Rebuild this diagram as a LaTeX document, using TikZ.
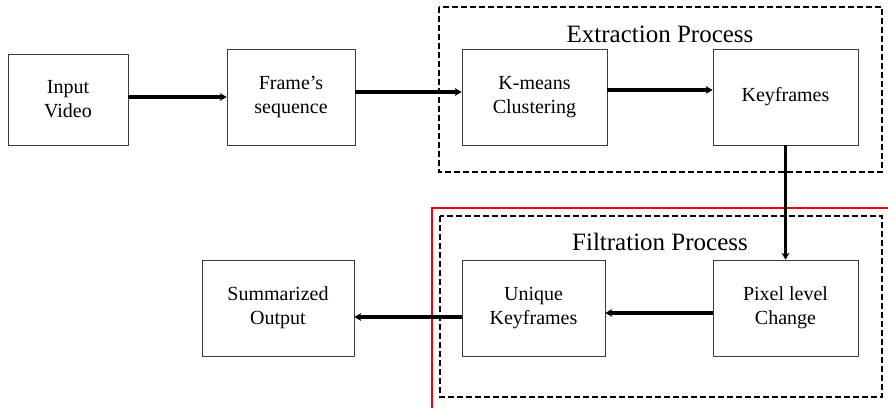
\documentclass[tikz,border=0pt]{standalone}
\usepackage{fontspec}
\setmainfont{Liberation Serif}
\usepackage{tikz}
\usetikzlibrary{arrows.meta, positioning}
\definecolor{boxline}{HTML}{3C3C3C}
\definecolor{redline}{HTML}{E8000B}

\begin{document}
\begin{tikzpicture}[x=1pt, y=-1pt, >={Stealth[length=7pt, width=8pt]},
  blok/.style={draw=boxline, line width=0.7pt, inner sep=0pt, minimum height=96pt, align=center, font=\fontsize{20}{24}\selectfont},
  sipka/.style={->, line width=3.5pt},
  skupina/.style={dash pattern=on 6pt off 3pt, line width=1.5pt},
  nadpis/.style={font=\fontsize{25}{30}\selectfont}]
  \useasboundingbox (0,0) rectangle (888,408);

  % Bloky
  \node[blok, minimum width=120pt, minimum height=91pt] (inp) at (68,99.5) {Input\\Video};
  \node[blok, minimum width=128pt] (frames) at (291,97) {Frame’s\\sequence};
  \node[blok, minimum width=145pt] (kmeans) at (534.5,97) {K-means\\Clustering};
  \node[blok, minimum width=145pt] (key) at (785.5,97) {Keyframes};
  \node[blok, minimum width=145pt] (pix) at (785.5,308) {Pixel level\\Change};
  \node[blok, minimum width=143pt] (uniq) at (533.5,308) {Unique\\Keyframes};
  \node[blok, minimum width=152pt] (summ) at (278,308) {Summarized\\Output};

  % Skupiny
  \draw[skupina] (439,7) rectangle (882,172);
  \node[nadpis] (extr) at (660,34) {Extraction Process};
  \draw[skupina] (440,216) rectangle (882,397);
  \node[nadpis] (filt) at (660,242) {Filtration Process};

  % Červená čára
  \draw[redline, line width=1.4pt] (432,408) -- (432,208) -- (888,208);

  % Šipky
  \draw[sipka] (inp.east |- frames.west) -- (frames.west);
  \draw[sipka] ([yshift=5pt]frames.east) -- ([yshift=5pt]kmeans.west);
  \draw[sipka] ([yshift=7pt]kmeans.east) -- ([yshift=7pt]key.west);
  \draw[sipka] (key) -- (pix);
  \draw[sipka] ([yshift=-5pt]pix.west) -- ([yshift=-5pt]uniq.east);
  \draw[sipka] ([yshift=-9pt]uniq.west) -- ([yshift=-9pt]summ.east);
\end{tikzpicture}
\end{document}
